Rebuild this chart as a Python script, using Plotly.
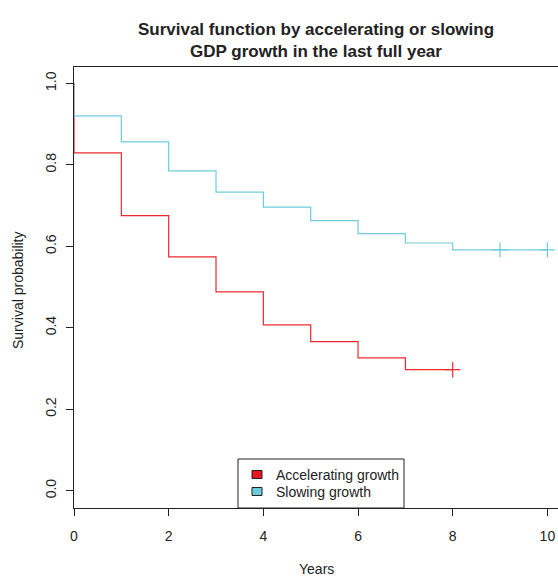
import plotly.graph_objects as go

# Data
accel_times = [0, 0, 1, 2, 3, 4, 5, 6, 7, 8]
accel_surv = [1.0, 0.829, 0.675, 0.574, 0.488, 0.407, 0.366, 0.326, 0.297, 0.297]
accel_censor_t = [8]
accel_censor_s = [0.297]

slow_times = [0, 0, 1, 2, 3, 4, 5, 6, 7, 8, 10]
slow_surv = [1.0, 0.920, 0.856, 0.785, 0.733, 0.696, 0.663, 0.631, 0.608, 0.591, 0.591]
slow_censor_t = [9, 10]
slow_censor_s = [0.591, 0.591]

y_ticks = [0.0, 0.2, 0.4, 0.6, 0.8, 1.0]
x_ticks = [0, 2, 4, 6, 8, 10]

legend_labels = ["Accelerating growth", "Slowing growth"]
legend_fills = ["#E8171F", "#6CCBD9"]

RED = "#EE2A2E"
CYAN = "#6DCDDB"
FONT = "Liberation Sans, Arial, sans-serif"
INK = "#222222"

# plot-area geometry in pixels (for converting legend placement)
L, R_, T, B = 74, 558, 67, 508
PW, PH = R_ - L, B - T


def px(xp):
    return (xp - L) / PW


def py(yp):
    return (B - yp) / PH


fig = go.Figure()
fig.add_trace(go.Scatter(x=accel_times, y=accel_surv, mode="lines",
                         line=dict(color=RED, width=1.2, shape="hv"),
                         showlegend=False, hoverinfo="skip"))
fig.add_trace(go.Scatter(x=slow_times, y=slow_surv, mode="lines",
                         line=dict(color=CYAN, width=1.2, shape="hv"),
                         showlegend=False, hoverinfo="skip"))
fig.add_trace(go.Scatter(x=accel_censor_t, y=accel_censor_s, mode="markers",
                         marker=dict(symbol="cross-thin", size=11,
                                     line=dict(color=RED, width=1.2)),
                         showlegend=False, hoverinfo="skip"))
fig.add_trace(go.Scatter(x=slow_censor_t, y=slow_censor_s, mode="markers",
                         marker=dict(symbol="cross-thin", size=11,
                                     line=dict(color=CYAN, width=1.2)),
                         showlegend=False, hoverinfo="skip"))

fig.update_layout(
    width=558, height=577,
    margin=dict(l=L, r=0, t=T, b=577 - B),
    paper_bgcolor="white", plot_bgcolor="white",
    font=dict(family=FONT, size=14, color=INK),
    title=dict(text="Survival function by accelerating or slowing<br>GDP growth in the last full year",
               font=dict(family=FONT, size=17, color=INK, weight="bold"),
               x=316/558, xanchor="center", xref="container",
               y=1 - 35/577, yanchor="middle", yref="container"),
    showlegend=False,
)
fig.update_xaxes(range=[0, PW/47.34], tickvals=x_ticks, ticktext=[str(v) for v in x_ticks],
                 showline=True, mirror=True, linecolor=INK, linewidth=1,
                 ticks="outside", ticklen=7, tickcolor=INK,
                 showgrid=False, zeroline=False, ticklabelstandoff=8)
fig.update_yaxes(range=[-0.0425, 1.04], tickvals=y_ticks, tickformat=".1f",
                 showline=True, mirror=False, linecolor=INK, linewidth=1,
                 ticks="outside", ticklen=7, tickcolor=INK, tickangle=-90,
                 showgrid=False, zeroline=False, ticklabelstandoff=4)

fig.add_annotation(text="Years", xref="paper", yref="paper", x=px(316), y=py(569),
                   showarrow=False, xanchor="center", yanchor="middle",
                   font=dict(family=FONT, size=14, color=INK))
fig.add_annotation(text="Survival probability", xref="paper", yref="paper",
                   x=px(18), y=py(290), textangle=-90,
                   showarrow=False, xanchor="center", yanchor="middle",
                   font=dict(family=FONT, size=14, color=INK))

# legend box (drawn manually to match the R-style legend)
fig.add_shape(type="rect", xref="paper", yref="paper",
              x0=px(238), x1=px(404), y0=py(508), y1=py(459),
              line=dict(color=INK, width=1), fillcolor="white", layer="above")
row_y = [474.5, 491.5]
for lab, fill, yc in zip(legend_labels, legend_fills, row_y):
    fig.add_shape(type="rect", xref="paper", yref="paper",
                  x0=px(252), x1=px(262), y0=py(yc + 4), y1=py(yc - 4),
                  line=dict(color=INK, width=1), fillcolor=fill, layer="above")
    fig.add_annotation(text=lab, xref="paper", yref="paper", x=px(274), y=py(yc),
                       showarrow=False, xanchor="left", yanchor="middle",
                       font=dict(family=FONT, size=14, color=INK))

fig.write_html("out.html")
